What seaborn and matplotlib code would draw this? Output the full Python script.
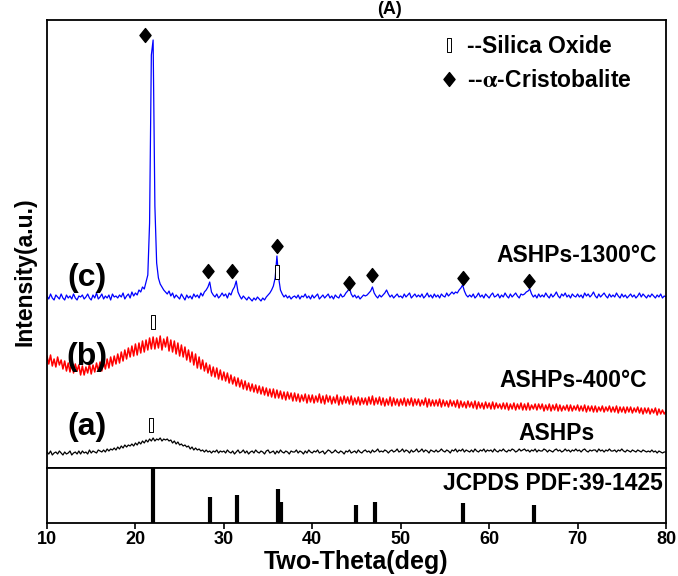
import numpy as np
import pandas as pd
import matplotlib
matplotlib.use("Agg")
import matplotlib.pyplot as plt
from matplotlib.path import Path
from matplotlib.lines import Line2D
import seaborn as sns

# ---------------- data ----------------
# scan: 10.0 .. 80.0 deg, 0.2 deg step (351 points)
scan_start, scan_step, scan_n = 10.0, 0.2, 351
two_theta = np.round(scan_start + scan_step * np.arange(scan_n), 1)

# (a) ASHPs  (offset intensity, a.u.)
ashps = [
    16,14,17,13,15, 16,14,17,15,13,
    16,14,15,17,13, 15,16,14,17,14,
    17,15,16,14,18, 15,17,16,15,18,
    17,16,18,16,19, 17,19,18,20,18,
    21,19,22,20,23, 21,23,22,24,22,
    25,23,26,24,27, 25,28,26,29,27,
    30,27,29,28,30, 27,29,28,29,27,
    28,25,27,24,26, 23,24,22,23,21,
    22,19,21,18,20, 18,19,17,18,16,
    18,16,17,15,17, 16,18,15,17,16,
    17,15,18,16,15, 17,14,16,18,15,
    16,18,15,17,14, 16,17,15,18,16,
    15,17,16,14,17, 18,15,16,17,14,
    17,15,18,16,15, 17,16,14,17,16,
    16,18,15,17,16, 14,17,15,18,16,
    15,17,16,18,15, 16,17,14,16,18,
    17,15,16,18,16, 15,17,16,14,17,
    16,18,15,16,17, 15,18,16,15,17,
    18,16,17,15,18, 16,17,19,16,17,
    16,18,17,15,17, 18,16,17,19,16,
    17,19,16,18,17, 15,18,16,17,19,
    16,17,19,16,18, 17,15,18,17,16,
    18,16,17,19,17, 16,18,17,15,18,
    17,19,16,18,17, 19,16,18,17,16,
    18,16,19,17,16, 18,17,19,16,18,
    17,18,16,19,17, 16,18,17,19,17,
    16,18,17,19,18, 16,17,19,17,18,
    19,17,18,16,18, 17,19,16,18,17,
    17,19,18,16,18, 17,16,18,19,17,
    18,16,17,19,17, 18,16,18,17,19,
    17,18,16,18,19, 17,16,18,17,18,
    18,16,19,17,18, 16,18,17,19,17,
    17,18,16,18,17, 19,17,16,18,17,
    16,18,17,16,18, 17,16,18,17,16,
    17,16,18,16,17, 15,17,16,15,16,
    16,
]

# (b) ASHPs-400°C
ashps_400 = [
    112,104,113,102,109, 101,111,103,108,99,
    107,97,105,96,106, 95,104,97,103,93,
    102,93,101,95,104, 94,103,96,105,97,
    106,97,107,99,109, 100,111,102,112,104,
    114,105,116,107,118, 109,120,111,122,112,
    124,113,125,115,127, 116,128,118,130,119,
    131,119,130,120,132, 118,129,121,131,117,
    128,116,127,114,125, 112,123,111,121,108,
    118,106,116,103,114, 100,111,99,108,97,
    105,95,103,92,101, 91,100,89,98,88,
    96,87,95,85,93, 84,91,82,90,81,
    88,79,87,78,85, 77,84,76,83,75,
    82,74,81,73,80, 72,79,71,79,70,
    78,70,77,69,76, 68,76,69,75,67,
    75,67,74,66,73, 67,74,65,73,66,
    73,65,72,66,74, 65,72,64,73,66,
    72,64,71,65,73, 63,71,64,72,65,
    71,64,72,63,70, 64,71,63,70,64,
    70,63,71,64,72, 63,70,64,71,63,
    70,62,69,63,71, 62,70,63,69,62,
    69,63,70,62,69, 63,70,62,69,63,
    69,62,68,63,70, 61,69,62,68,62,
    68,62,69,61,68, 62,67,61,68,62,
    67,61,68,60,67, 61,66,60,67,61,
    66,60,67,59,66, 60,65,59,66,60,
    65,59,66,59,65, 60,64,59,65,59,
    65,58,64,59,65, 58,64,59,65,58,
    64,58,65,58,63, 59,64,58,64,59,
    64,57,63,58,64, 57,63,58,64,57,
    63,57,62,58,63, 57,63,57,62,58,
    63,57,62,57,63, 56,62,57,62,56,
    62,56,61,57,62, 56,61,57,62,56,
    61,56,62,55,61, 56,61,55,61,56,
    61,55,60,56,61, 55,60,54,60,55,
    60,54,59,55,60, 53,59,54,58,54,
    57,
]

# (c) ASHPs-1300°C
ashps_1300 = [
    172,169,174,170,168, 173,171,169,174,170,
    168,173,170,172,169, 174,170,168,172,171,
    173,169,171,174,170, 168,173,170,175,169,
    171,174,169,172,170, 173,168,174,171,172,
    170,173,171,175,169, 172,174,170,176,172,
    175,173,178,176,181, 179,186,193,245,413,
    428,262,205,190,184, 181,178,176,174,177,
    172,175,170,173,171, 169,174,171,168,173,
    170,172,169,174,171, 173,170,175,172,176,
    178,181,186,176,173, 171,174,170,172,175,
    172,174,170,175,173, 178,181,187,176,172,
    169,172,170,168,171, 169,167,170,168,171,
    169,167,170,168,171, 173,175,178,182,190,
    212,190,178,174,171, 173,170,172,169,171,
    172,170,173,169,172, 171,174,170,172,169,
    173,170,172,174,169, 171,173,170,172,174,
    170,172,169,173,171, 170,174,171,172,175,
    177,180,174,171,173, 170,172,169,171,173,
    172,173,175,177,181, 175,172,170,173,171,
    173,175,178,174,171, 173,170,172,174,171,
    172,170,174,171,173, 175,170,172,174,171,
    173,171,174,170,172, 175,171,173,170,174,
    171,173,170,174,172, 171,175,172,174,176,
    174,176,175,178,180, 183,177,173,171,173,
    171,174,170,172,175, 171,173,170,174,172,
    170,173,175,171,172, 174,170,173,171,175,
    172,170,174,171,173, 175,172,170,174,173,
    174,176,177,179,174, 171,173,170,174,171,
    173,171,175,172,170, 174,171,173,176,172,
    170,174,172,175,171, 173,170,174,172,171,
    174,171,173,170,175, 172,174,171,173,176,
    172,170,174,171,173, 175,172,170,174,171,
    173,171,175,172,170, 174,171,173,170,172,
    174,171,173,170,172, 175,171,174,172,170,
    173,171,174,172,170, 173,171,174,170,172,
    171,
]

# alpha-cristobalite peak markers (diamonds) on trace (c)
cristo_x = [21.1, 28.2, 30.9, 36.0, 44.2, 46.8, 57.0, 64.5]
cristo_y = [433, 197, 197, 222, 185, 193, 190, 187]

# silica oxide markers
silica_x = [21.8, 22.0, 36.0]
silica_y = [43, 146, 196]

# JCPDS PDF 39-1425 reference sticks
jcpds_pos = [22.0, 28.4, 31.5, 36.1, 36.5, 44.9, 47.1, 57.1, 65.1]
jcpds_int = [100, 47, 51, 62, 38, 33, 38, 36, 33]

x_ticks = [10, 20, 30, 40, 50, 60, 70, 80]

# ---------------- style ----------------
sns.set_theme(style="white")
plt.rcParams["font.family"] = ["Liberation Sans", "DejaVu Sans"]
plt.rcParams["font.weight"] = "bold"
plt.rcParams["mathtext.fontset"] = "stix"
for k in ("text.color", "axes.labelcolor", "xtick.color", "ytick.color"):
    plt.rcParams[k] = "black"

diamond = Path([(0, 1), (0.8, 0), (0, -1), (-0.8, 0), (0, 1)],
               [Path.MOVETO, Path.LINETO, Path.LINETO, Path.LINETO, Path.CLOSEPOLY])
rect = Path([(-0.32, -1), (0.32, -1), (0.32, 1), (-0.32, 1), (-0.32, -1)],
            [Path.MOVETO, Path.LINETO, Path.LINETO, Path.LINETO, Path.CLOSEPOLY])

fig = plt.figure(figsize=(6.78, 5.76), dpi=100)
ax = fig.add_axes([47/678, 108/576, 619/678, 448/576])
ax2 = fig.add_axes([47/678, 53/576, 619/678, 55/576], sharex=ax)

df = pd.DataFrame({"two_theta": two_theta, "a": ashps, "b": ashps_400, "c": ashps_1300})
sns.lineplot(data=df, x="two_theta", y="a", color="black", lw=0.9, ax=ax, errorbar=None)
sns.lineplot(data=df, x="two_theta", y="b", color="#ff0000", lw=1.1, ax=ax, errorbar=None)
sns.lineplot(data=df, x="two_theta", y="c", color="#0000ff", lw=0.9, ax=ax, errorbar=None)

ax.plot(cristo_x, cristo_y, ls="none", marker=diamond, ms=10, color="black", mec="black")
ax.plot(silica_x, silica_y, ls="none", marker=rect, ms=9.5, mfc="white", mec="black", mew=0.7)

ax.set_xlim(10, 80)
ax.set_ylim(0, 448)
ax.set_xlabel("")
ax.set_ylabel("")
ax.tick_params(left=False, bottom=False, labelleft=False, labelbottom=False)

tfs = 16.5
ax.text(14.5, 182, "(c)", fontsize=23, fontweight="bold", ha="center", va="baseline")
ax.text(14.5, 103, "(b)", fontsize=23, fontweight="bold", ha="center", va="baseline")
ax.text(14.5, 33, "(a)", fontsize=23, fontweight="bold", ha="center", va="baseline")
ax.text(78.98, 206, "ASHPs-1300°C", fontsize=tfs, fontweight="bold", ha="right", va="baseline")
ax.text(77.85, 81, "ASHPs-400°C", fontsize=tfs, fontweight="bold", ha="right", va="baseline")
ax.text(71.97, 28, "ASHPs", fontsize=tfs, fontweight="bold", ha="right", va="baseline")

handles = [
    Line2D([], [], ls="none", marker=rect, ms=9.5, mfc="white", mec="black", mew=0.7),
    Line2D([], [], ls="none", marker=diamond, ms=10, color="black"),
]
leg = ax.legend(handles, ["--Silica Oxide", r"--$\mathrm{\alpha}$-Cristobalite"],
                loc="upper left", bbox_to_anchor=(441/678, 1 - 35/576),
                bbox_transform=fig.transFigure, frameon=False,
                prop={"size": 16.5, "weight": "bold"}, handlelength=0.7,
                handletextpad=0.45, labelspacing=0.5, borderpad=0, borderaxespad=0)

# JCPDS sticks
ax2.vlines(jcpds_pos, 0, jcpds_int, color="black", lw=3)
ax2.set_ylim(0, 100)
ax2.set_xlim(10, 80)
ax2.set_xticks(x_ticks)
ax2.set_xticklabels([str(t) for t in x_ticks], fontsize=13, fontweight="bold")
ax2.tick_params(axis="x", direction="out", length=4, width=1.2, bottom=True, pad=2)
ax2.tick_params(axis="y", left=False, labelleft=False)
ax2.text(79.66, 60, "JCPDS PDF:39-1425", fontsize=tfs, fontweight="bold", ha="right", va="baseline")
ax2.set_xlabel("Two-Theta(deg)", fontsize=18, fontweight="bold", labelpad=1.5)

for a in (ax, ax2):
    for s in a.spines.values():
        s.set_visible(True)
        s.set_color("black")
        s.set_linewidth(1.3)

fig.text(25/678, 1 - 272/576, "Intensity(a.u.)", rotation=90, ha="center", va="center",
         fontsize=16.5, fontweight="bold")
fig.text(390/678, 1 - 14/576, "(A)", ha="center", va="baseline", fontsize=13, fontweight="bold")

fig.savefig("out.png", dpi=100)
